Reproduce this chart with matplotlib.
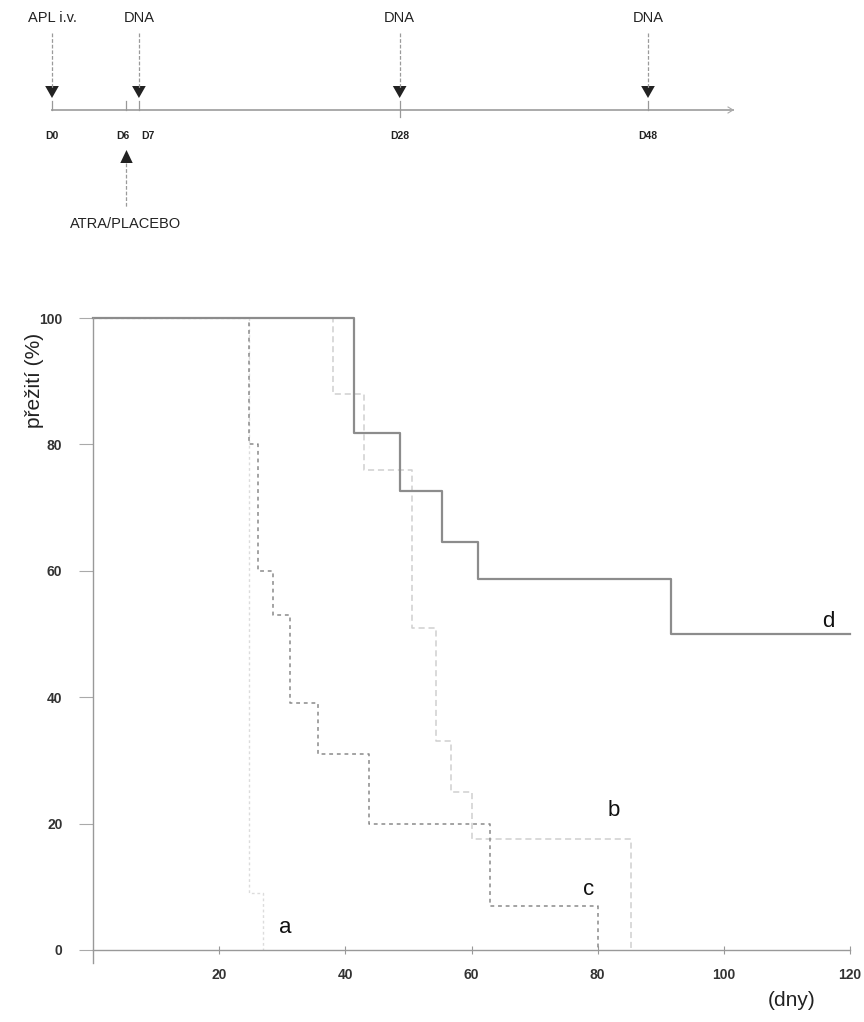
import matplotlib
matplotlib.use("Agg")
import matplotlib.pyplot as plt

plt.rcParams['font.family'] = ['Liberation Sans', 'DejaVu Sans']

# ---- data ----
time_a = [0, 24.8, 27.0]
surv_a = [100, 9, 0]
time_b = [0, 38.0, 43.0, 50.5, 54.3, 56.7, 60.0, 85.3]
surv_b = [100, 88, 76, 51, 33, 25, 17.6, 0]
time_c = [0, 24.7, 26.2, 28.6, 31.3, 35.7, 43.8, 63.0, 80.0]
surv_c = [100, 80, 60, 53, 39, 31, 20, 7, 0]
time_d = [0, 41.3, 48.6, 55.4, 61.0, 91.7, 120]
surv_d = [100, 81.8, 72.7, 64.6, 58.7, 50, 50]

curve_labels = ['a', 'b', 'c', 'd']
label_pos = {'a': (30.5, 3.5), 'b': (82.5, 22.0), 'c': (78.5, 9.5), 'd': (116.5, 52)}

x_ticks = [20, 40, 60, 80, 100, 120]
y_ticks = [0, 20, 40, 60, 80, 100]

# timeline
dose_days = [0, 7, 28, 48]
dose_labels = ['APL i.v.', 'DNA', 'DNA', 'DNA']
tick_days = [0, 6, 7, 28, 48]
tick_labels = ['D0', 'D6', 'D7', 'D28', 'D48']
atra_day = 6
atra_label = 'ATRA/PLACEBO'

W, H = 864, 1022
fig = plt.figure(figsize=(W / 100, H / 100), dpi=100)

# ---- survival plot ----
x0, x1 = 93, 850
y_top, y_bot = 318, 962.6
ax = fig.add_axes([x0 / W, 1 - y_bot / H, (x1 - x0) / W, (y_bot - y_top) / H])
ax.set_xlim(0, 120)
ax.set_ylim(-2, 100)
for s in ['top', 'right']:
    ax.spines[s].set_visible(False)
ax.spines['bottom'].set_position(('data', 0))
for s in ['left', 'bottom']:
    ax.spines[s].set_color('#999999')
    ax.spines[s].set_linewidth(1.0)
ax.spines['left'].set_bounds(-2, 100)

ax.step(time_a, surv_a, where='post', color='#dcdcdc', lw=1.0,
        ls=(0, (2, 2)), clip_on=False)
ax.step(time_b, surv_b, where='post', color='#d0d0d0', lw=1.1,
        ls=(0, (4, 2.5)), clip_on=False)
ax.step(time_c, surv_c, where='post', color='#8a8a8a', lw=1.1,
        ls=(0, (2.5, 2.5)), clip_on=False)
ax.step(time_d, surv_d, where='post', color='#8c8c8c', lw=1.6, clip_on=False)

for lab in curve_labels:
    xx, yy = label_pos[lab]
    ax.text(xx, yy, lab, fontsize=16, color='#111111', ha='center', va='center')

ax.set_xticks(x_ticks)
ax.set_xticklabels([str(t) for t in x_ticks])
ax.set_yticks(y_ticks)
ax.set_yticklabels([str(t) for t in y_ticks])
ax.tick_params(axis='x', direction='inout', length=6, width=0.8, color='#999999',
               labelsize=10, labelcolor='#333333', pad=10)
ax.tick_params(axis='y', direction='out', length=10, width=0.8, color='#aaaaaa',
               labelsize=10, labelcolor='#333333', pad=12)
for t in ax.get_xticklabels() + ax.get_yticklabels():
    t.set_fontweight('bold')

fig.text(35 / W, 1 - 380 / H, 'přežití (%)', rotation=90, fontsize=15,
         ha='center', va='center', color='#222222')
fig.text(792 / W, 1 - 1000 / H, '(dny)', fontsize=15, ha='center', va='center',
         color='#222222')

# ---- timeline ----
tl_h = 255
ax2 = fig.add_axes([0, 1 - tl_h / H, 1, tl_h / H])
px_per_day = (648 - 52) / 48
ax2.set_xlim(-52 / px_per_day, (W - 52) / px_per_day)
ax2.set_ylim(tl_h, 0)
ax2.axis('off')

axis_y = 110
end_day = (733 - 52) / px_per_day
ax2.plot([0, end_day], [axis_y, axis_y], color='#aaaaaa', lw=1.4)
ax2.plot([end_day - 0.4, end_day, end_day - 0.4], [axis_y - 3, axis_y, axis_y + 3],
         color='#aaaaaa', lw=0.8)

for d, lab in zip(dose_days, dose_labels):
    ax2.plot([d, d], [33, 88], color='#9a9a9a', lw=0.9, ls=(0, (3, 1.5)))
    ax2.fill([d - 0.55, d + 0.55, d], [86, 86, 98], color='#222222', lw=0)
    ax2.text(d, 18, lab, fontsize=10.5, ha='center', va='center', color='#222222')

for d in tick_days:
    ax2.plot([d, d], [101, 117 if d == 28 else 110], color='#999999', lw=0.9)

offsets = {'D0': 0, 'D6': -0.3, 'D7': 0.7, 'D28': 0, 'D48': 0}
for d, lab in zip(tick_days, tick_labels):
    ax2.text(d + offsets[lab], 136, lab, fontsize=7.5, fontweight='bold',
             ha='center', va='center', color='#222222')

ax2.fill([atra_day - 0.5, atra_day + 0.5, atra_day], [163, 163, 150],
         color='#222222', lw=0)
ax2.plot([atra_day, atra_day], [163, 207], color='#9a9a9a', lw=0.9, ls=(0, (3, 1.5)))
ax2.text(atra_day - 0.1, 224, atra_label, fontsize=10.5, ha='center', va='center',
         color='#222222')

fig.savefig('out.png', dpi=100)
